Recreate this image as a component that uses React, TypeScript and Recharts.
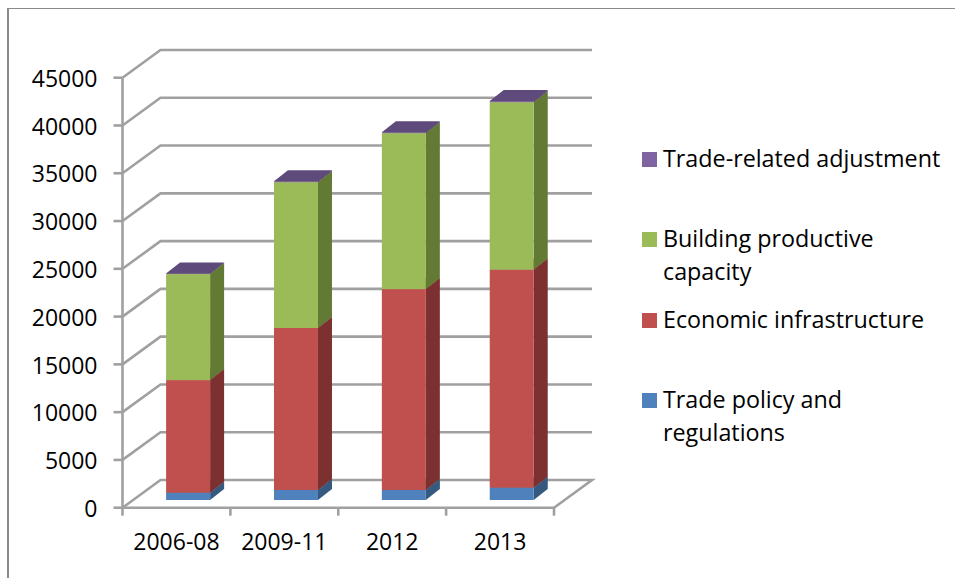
import { BarChart, Bar, XAxis, YAxis, CartesianGrid, Legend } from "recharts"

const categories = ["2006-08", "2009-11", "2012", "2013"]
const tradePolicy = [760, 1050, 1050, 1290]
const economicInfra = [11790, 16950, 21020, 22820]
const productiveCapacity = [11090, 15260, 16320, 17520]
const tradeAdjustment = [70, 100, 100, 120]
const yTicks = [0, 5000, 10000, 15000, 20000, 25000, 30000, 35000, 40000, 45000]

const chartData = categories.map((name, i) => ({
  name,
  policy: tradePolicy[i],
  infra: economicInfra[i],
  capacity: productiveCapacity[i],
  adjustment: tradeAdjustment[i],
}))

const FONT = "'Open Sans', sans-serif"
const GRID = "#a0a0a0"
const LINE = 2.6
const LEFT = 122.5
const RIGHT = 554
const BOTTOM = 507.7
const STEP = (RIGHT - LEFT) / categories.length

// depth of the back wall, and where the bars sit inside it
const WALL = { x: 38, y: -27.7 }
const BAR_SHIFT = { x: 11.6, y: -7.7 }
const BAR_DEPTH = { x: 14, y: -11 }

// Legend rows are listed top to bottom, their y comes from the reference
const legendTops = [147, 227, 308, 388]

function box(front: string, side: string, top: string) {
  return (props: any) => {
    const { width, height } = props
    const x = props.x + BAR_SHIFT.x
    const y = props.y + BAR_SHIFT.y
    const r = x + width
    const b = y + height
    const d = BAR_DEPTH
    return (
      <g>
        <path d={`M${x},${y}L${x + d.x},${y + d.y}L${r + d.x},${y + d.y}L${r},${y}Z`} fill={top} />
        <path d={`M${r},${y}L${r + d.x},${y + d.y}L${r + d.x},${b + d.y}L${r},${b}Z`} fill={side} />
        <rect x={x} y={y} width={width} height={height} fill={front} />
      </g>
    )
  }
}

// horizontal grid line bent back along the side wall
function wallLine(props: any) {
  const { x1, y1, x2 } = props
  const points = [
    [x1, y1],
    [x1 + WALL.x, y1 + WALL.y],
    [x2 + WALL.x, y1 + WALL.y],
  ]
  if (y1 > BOTTOM - 1) points.push([x2, y1])
  return (
    <polyline
      key={props.index}
      points={points.map((p) => p.join(",")).join(" ")}
      fill="none"
      stroke={GRID}
      strokeWidth={LINE}
    />
  )
}

function CategoryTick(props: any) {
  const { x, y, index, payload } = props
  const left = x - STEP / 2
  return (
    <g>
      <line x1={left} y1={y - 8} x2={left} y2={y} stroke={GRID} strokeWidth={LINE} />
      {index === categories.length - 1 && (
        <line x1={left + STEP} y1={y - 8} x2={left + STEP} y2={y} stroke={GRID} strokeWidth={LINE} />
      )}
      <text x={x} y={y + 34} textAnchor="middle" fontFamily={FONT} fontSize={23} fill="#000">
        {payload.value}
      </text>
    </g>
  )
}

function LegendRows({ payload }: any) {
  const rows = [...(payload || [])].reverse()
  return (
    <div>
      {rows.map((item: any, i: number) => (
        <div key={item.value} style={{ position: "absolute", left: 0, top: legendTops[i], width: 300 }}>
          <span
            style={{
              position: "absolute",
              left: 0,
              top: 5,
              width: 15,
              height: 15,
              background: item.color,
            }}
          />
          <div style={{ marginLeft: 21, fontFamily: FONT, fontSize: 23.3, lineHeight: "33px", color: "#000", marginTop: -5 }}>
            {item.value}
          </div>
        </div>
      ))}
    </div>
  )
}

export default function App() {
  return (
    <div style={{ position: "absolute", left: 0, top: 0, width: 955, height: 578, background: "#fff", overflow: "hidden" }}>
      <div
        style={{
          position: "absolute",
          left: 7,
          top: 8,
          right: 0,
          bottom: 0,
          borderLeft: "2px solid #8a8a8a",
          borderTop: "1px solid #8a8a8a",
        }}
      />
      <BarChart
        width={955}
        height={578}
        data={chartData}
        margin={{ top: 77.7, right: 401, bottom: 0.3, left: 22.5 }}
        barSize={44}
      >
        <CartesianGrid vertical={false} horizontal={wallLine} />
        <XAxis
          dataKey="name"
          height={70}
          stroke={GRID}
          strokeWidth={LINE}
          tickLine={false}
          interval={0}
          tick={<CategoryTick />}
        />
        <YAxis
          width={100}
          domain={[0, 45000]}
          ticks={yTicks}
          interval={0}
          stroke={GRID}
          strokeWidth={LINE}
          tickSize={9}
          tickMargin={16}
          tick={{ fontFamily: FONT, fontSize: 23, fill: "#000", dy: 1 }}
        />
        <Legend
          layout="vertical"
          align="center"
          verticalAlign="top"
          itemSorter={null}
          wrapperStyle={{ position: "absolute", left: 642, top: 0, width: 300 }}
          content={<LegendRows />}
        />
        <Bar dataKey="policy" name="Trade policy and regulations" stackId="a" fill="#4f81bd" shape={box("#4f81bd", "#35597f", "#35597f")} isAnimationActive={false} />
        <Bar dataKey="infra" name="Economic infrastructure" stackId="a" fill="#c0504d" shape={box("#c0504d", "#7c3130", "#7c3130")} isAnimationActive={false} />
        <Bar dataKey="capacity" name="Building productive capacity" stackId="a" fill="#9bbb59" shape={box("#9bbb59", "#637a35", "#637a35")} isAnimationActive={false} />
        <Bar dataKey="adjustment" name="Trade-related adjustment" stackId="a" fill="#8064a2" shape={box("#8064a2", "#5f4a7c", "#5f4a7c")} isAnimationActive={false} />
      </BarChart>
    </div>
  )
}
